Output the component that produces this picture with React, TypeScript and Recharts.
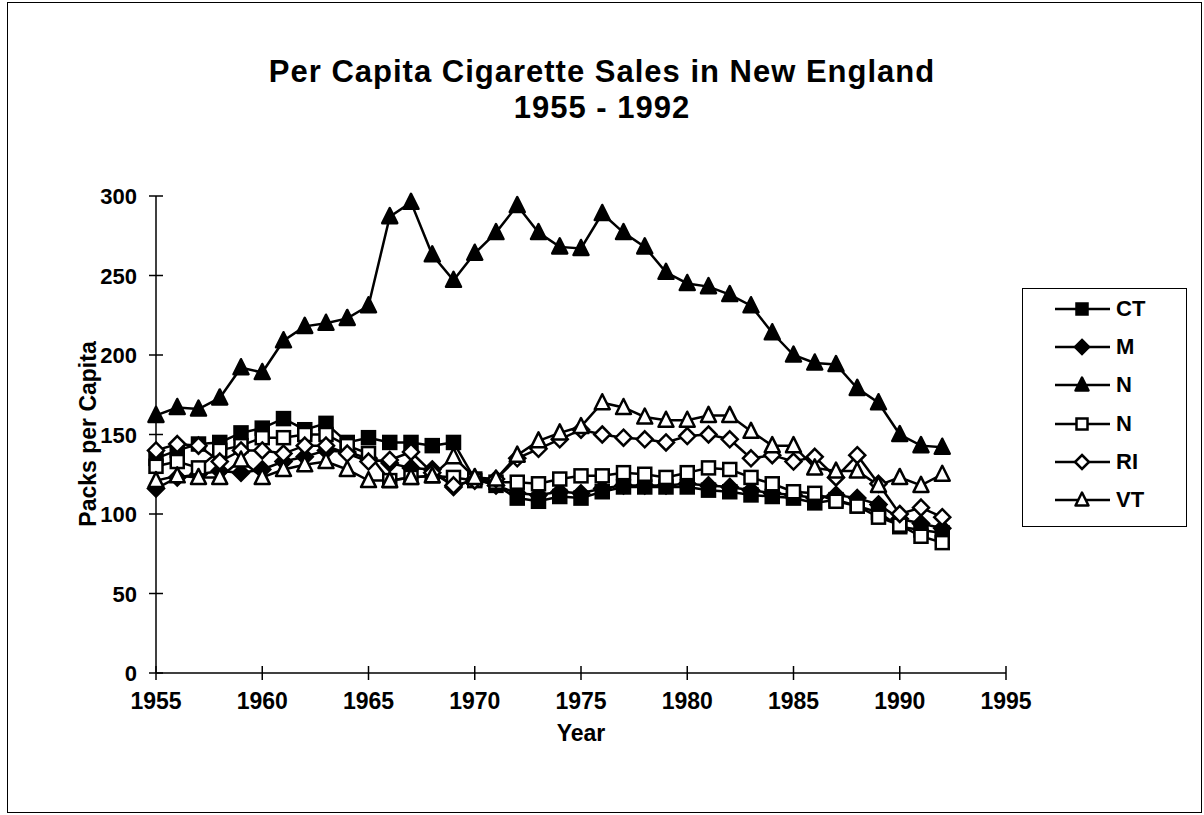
import React from "react";
import { LineChart, Line, XAxis, YAxis, Legend } from "recharts";

const years = [
  1955, 1956, 1957, 1958, 1959, 1960, 1961, 1962, 1963, 1964, 1965, 1966, 1967,
  1968, 1969, 1970, 1971, 1972, 1973, 1974, 1975, 1976, 1977, 1978, 1979, 1980,
  1981, 1982, 1983, 1984, 1985, 1986, 1987, 1988, 1989, 1990, 1991, 1992,
];

// values (packs per capita)
const ct = [
  135, 140, 144, 145, 151, 154, 160, 153, 157, 145, 148, 145, 145, 143, 145, 122,
  118, 110, 108, 111, 110, 114, 117, 117, 117, 117, 115, 114, 112, 111, 110, 107,
  109, 105, 101, 92, 90, 88,
];
const me = [
  116, 123, 125, 127, 126, 128, 133, 136, 140, 139, 135, 132, 129, 128, 117, 122,
  118, 113, 112, 114, 113, 116, 118, 118, 118, 119, 118, 117, 115, 113, 112, 110,
  112, 110, 106, 97, 94, 91,
];
const nh = [
  162, 167, 166, 173, 192, 189, 209, 218, 220, 223, 231, 287, 296, 263, 247, 264,
  277, 294, 277, 268, 267, 289, 277, 268, 252, 245, 243, 238, 231, 214, 200, 195,
  194, 179, 170, 150, 143, 142,
];
const ny = [
  130, 133, 129, 140, 143, 148, 148, 150, 150, 143, 138, 121, 123, 124, 123, 121,
  120, 120, 119, 122, 124, 124, 126, 125, 123, 126, 129, 128, 123, 119, 114, 113,
  108, 105, 98, 93, 86, 82,
];
const ri = [
  140, 144, 143, 133, 140, 140, 138, 143, 143, 138, 133, 134, 139, 126, 118, 121,
  122, 135, 141, 147, 153, 150, 148, 147, 145, 149, 150, 147, 135, 137, 133, 136,
  123, 137, 119, 100, 104, 98,
];
const vt = [
  121, 124, 123, 123, 134, 123, 128, 131, 133, 128, 121, 121, 123, 124, 136, 123,
  122, 137, 146, 151, 155, 170, 167, 161, 159, 159, 162, 162, 152, 143, 143, 129,
  127, 127, 118, 123, 118, 125,
];

const xTicks = [1955, 1960, 1965, 1970, 1975, 1980, 1985, 1990, 1995];
const yTicks = [0, 50, 100, 150, 200, 250, 300];

const data = years.map((year, i) => ({
  year,
  ct: ct[i],
  m: me[i],
  n1: nh[i],
  n2: ny[i],
  ri: ri[i],
  vt: vt[i],
}));

type Shape = "square" | "diamond" | "triangle";

const series: { key: string; name: string; shape: Shape; filled: boolean }[] = [
  { key: "ct", name: "CT", shape: "square", filled: true },
  { key: "m", name: "M", shape: "diamond", filled: true },
  { key: "n1", name: "N", shape: "triangle", filled: true },
  { key: "n2", name: "N", shape: "square", filled: false },
  { key: "ri", name: "RI", shape: "diamond", filled: false },
  { key: "vt", name: "VT", shape: "triangle", filled: false },
];

const FONT = "'Liberation Sans', Arial, Helvetica, sans-serif";

function Marker({ cx, cy, shape, filled, size = 13 }: { cx: number; cy: number; shape: Shape; filled: boolean; size?: number }) {
  const h = size / 2;
  const fill = filled ? "#000" : "#fff";
  if (shape === "square") {
    return <rect x={cx - h} y={cy - h} width={size} height={size} fill={fill} stroke="#000" strokeWidth={2.5} />;
  }
  if (shape === "diamond") {
    const d = h + 1.5;
    return (
      <polygon
        points={`${cx},${cy - d} ${cx + d},${cy} ${cx},${cy + d} ${cx - d},${cy}`}
        fill={fill}
        stroke="#000"
        strokeWidth={2.5}
      />
    );
  }
  return (
    <polygon
      points={`${cx},${cy - h - 2} ${cx + h + 1},${cy + h} ${cx - h - 1},${cy + h}`}
      fill={fill}
      stroke="#000"
      strokeWidth={2.5}
      strokeLinejoin="round"
    />
  );
}

const XTick = (props: any) => {
  const { x, y, payload } = props;
  return (
    <g>
      <line x1={x} x2={x} y1={y - 7} y2={y + 7} stroke="#000" strokeWidth={1.5} />
      <text x={x} y={y + 36} textAnchor="middle" fontFamily={FONT} fontWeight="bold" fontSize={23} fill="#000">
        {payload.value}
      </text>
    </g>
  );
};

const YTick = (props: any) => {
  const { x, y, payload } = props;
  return (
    <g>
      <line x1={x - 7} x2={x + 7} y1={y} y2={y} stroke="#000" strokeWidth={1.5} />
      <text x={x - 19} y={y + 8} textAnchor="end" fontFamily={FONT} fontWeight="bold" fontSize={22} fill="#000">
        {payload.value}
      </text>
    </g>
  );
};

const LegendBox = () => (
  <div
    style={{
      width: 165,
      height: 239,
      boxSizing: "border-box",
      border: "1.5px solid #000",
      background: "#fff",
      position: "relative",
    }}
  >
    {series.map((s, i) => (
      <div
        key={s.key}
        style={{ position: "absolute", left: 30, top: 20 + i * 38.2 - 12, height: 24, display: "flex", alignItems: "center" }}
      >
        <svg width={60} height={24} style={{ display: "block" }}>
          <line x1={2} x2={57} y1={12} y2={12} stroke="#000" strokeWidth={2.5} />
          <Marker cx={29} cy={12} shape={s.shape} filled={s.filled} size={11} />
        </svg>
        <span style={{ fontFamily: FONT, fontWeight: "bold", fontSize: 22, marginLeft: 3, lineHeight: "24px" }}>{s.name}</span>
      </div>
    ))}
  </div>
);

export default function App() {
  return (
    <div style={{ position: "absolute", left: 0, top: 0, width: 1204, height: 815, background: "#fff" }}>
      <div
        style={{
          position: "absolute",
          left: 7,
          top: 2,
          width: 1195,
          height: 811,
          boxSizing: "border-box",
          border: "1.5px solid #000",
        }}
      />
      <div
        style={{
          position: "absolute",
          left: 0,
          top: 54,
          width: 1204,
          textAlign: "center",
          fontFamily: FONT,
          fontWeight: "bold",
          fontSize: 31,
          letterSpacing: 1,
          lineHeight: "36px",
        }}
      >
        <div>Per Capita Cigarette Sales in New England</div>
        <div>1955 - 1992</div>
      </div>
      <div
        style={{
          position: "absolute",
          left: 88 - 150,
          top: 434 - 15,
          width: 300,
          height: 30,
          lineHeight: "30px",
          textAlign: "center",
          transform: "rotate(-90deg)",
          fontFamily: FONT,
          fontWeight: "bold",
          fontSize: 23,
        }}
      >
        Packs per Capita
      </div>
      <div
        style={{
          position: "absolute",
          left: 581 - 100,
          top: 733 - 15,
          width: 200,
          height: 30,
          lineHeight: "30px",
          textAlign: "center",
          fontFamily: FONT,
          fontWeight: "bold",
          fontSize: 23,
        }}
      >
        Year
      </div>
      <LineChart
        width={1204}
        height={815}
        data={data}
        margin={{ top: 196, right: 198, bottom: 102, left: 106 }}
        style={{ position: "absolute", left: 0, top: 0 }}
      >
        <XAxis
          dataKey="year"
          type="number"
          domain={[1955, 1995]}
          ticks={xTicks}
          interval={0}
          height={40}
          tickSize={0}
          tickMargin={0}
          tickLine={false}
          axisLine={{ stroke: "#000", strokeWidth: 1.5 }}
          tick={(p: any) => <XTick {...p} />}
        />
        <YAxis
          type="number"
          domain={[0, 300]}
          ticks={yTicks}
          interval={0}
          width={50}
          tickSize={0}
          tickMargin={0}
          tickLine={false}
          axisLine={{ stroke: "#000", strokeWidth: 1.5 }}
          tick={(p: any) => <YTick {...p} />}
        />
        <Legend
          layout="vertical"
          align="center"
          verticalAlign="middle"
          wrapperStyle={{ left: 1022, top: 288, width: 165, height: 239 }}
          content={() => <LegendBox />}
        />
        {series.map((s) => (
          <Line
            key={s.key}
            dataKey={s.key}
            name={s.name}
            type="linear"
            stroke="#000"
            strokeWidth={2.5}
            isAnimationActive={false}
            dot={(p: any) =>
              p.cx == null ? (
                <g key={`${s.key}-${p.index}`} />
              ) : (
                <Marker key={`${s.key}-${p.index}`} cx={p.cx} cy={p.cy} shape={s.shape} filled={s.filled} />
              )
            }
          />
        ))}
      </LineChart>
    </div>
  );
}
